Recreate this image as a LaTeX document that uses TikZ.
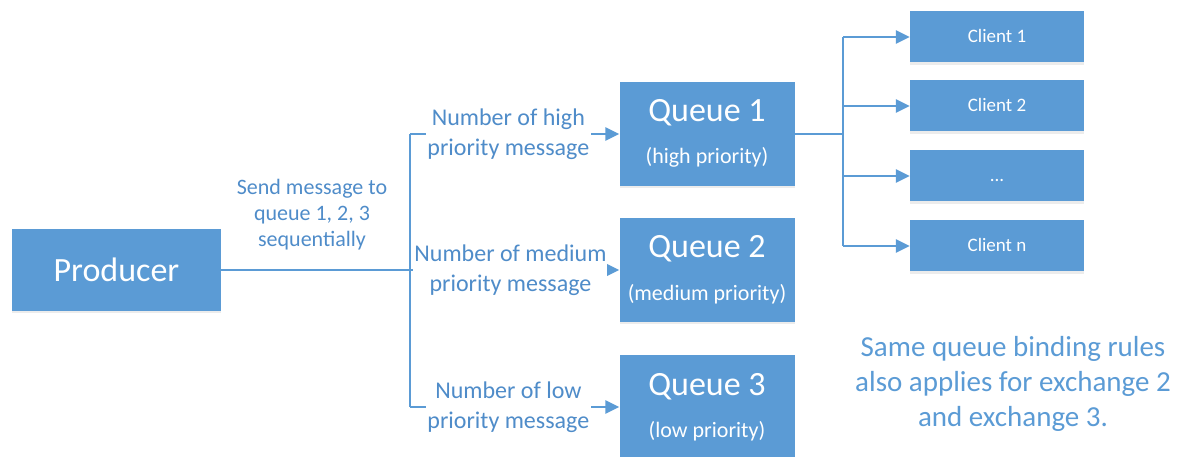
\documentclass[tikz,border=0pt]{standalone}
\usepackage{fontspec}
\setmainfont{Carlito}
\usetikzlibrary{arrows.meta,shadows}

\definecolor{boxblue}{HTML}{5B9BD5}
\definecolor{wireblue}{HTML}{5B9BD5}
\definecolor{labelblue}{HTML}{4F8CC9}
\definecolor{noteblue}{HTML}{5B9BD5}

\newcommand{\fsz}[2]{\fontsize{#1}{#2}\selectfont}

\begin{document}
\begin{tikzpicture}[x=1pt,y=-1pt,
  box/.style={fill=boxblue, draw=none, inner sep=0pt, text=white,
    drop shadow={shadow xshift=0pt, shadow yshift=-2.5pt, opacity=0.15}},
  prodbox/.style={box, minimum width=209pt, minimum height=82pt, font=\fsz{34}{40}},
  qbox/.style={box, minimum width=175pt, minimum height=104pt},
  qtitle/.style={text=white, inner sep=0pt, anchor=base, font=\fsz{34}{40}},
  qsub/.style={text=white, inner sep=0pt, anchor=base, font=\fsz{22}{27}},
  clientbox/.style={box, minimum width=174pt, minimum height=51pt,
    text height=14pt, text depth=2pt, font=\fsz{19}{23}},
  wire/.style={draw=wireblue, line width=2.5pt},
  tip/.style={-{Triangle[length=14pt,width=13pt]}},
  conlabel/.style={fill=white, text=labelblue, inner sep=1.5pt, align=center,
    font=\fsz{24}{30}},
  sendlabel/.style={text=labelblue, inner sep=0pt, align=center, font=\fsz{22}{26}},
  note/.style={text=noteblue, inner sep=0pt, align=center, font=\fsz{29}{35}}
]
\useasboundingbox (0,0) rectangle (1187,457);
\clip (0,0) rectangle (1187,457);

% producer
\node[prodbox] (prod) at (116.5,270) {Producer};
\node[sendlabel] (send) at (312,215) {Send message to\\queue 1, 2, 3\\sequentially};

% queues: box, title and priority line
\node[qbox] (q1) at (707,134) {};
\node[qtitle] (q1t) at (707,122) {Queue 1};
\node[qsub] (q1s) at (707,164) {(high priority)};

\node[qbox] (q2) at (707,270) {};
\node[qtitle] (q2t) at (707,258) {Queue 2};
\node[qsub] (q2s) at (707,301) {(medium priority)};

\node[qbox] (q3) at (707,407) {};
\node[qtitle] (q3t) at (707,395) {Queue 3};
\node[qsub] (q3s) at (707,437) {(low priority)};

% clients
\node[clientbox] (c1) at (997,37) {Client 1};
\node[clientbox] (c2) at (997,106) {Client 2};
\node[clientbox] (c3) at (997,176) {...};
\node[clientbox] (cn) at (997,246) {Client n};

% fan-out from the producer to the queues
\coordinate (split) at (410,270);
\coordinate (hi) at (410,134);
\coordinate (lo) at (410,407);

\draw[wire] (prod.east) -- (split);
\draw[wire, tip] (hi) -- node[conlabel, pos=0.47] (lhigh) {Number of high\\priority message} (q1.west);
\draw[wire, tip] (split) -- node[conlabel, pos=0.48, inner sep=1pt] (lmed) {Number of medium\\priority message} (q2.west);
\draw[wire, tip] (lo) -- node[conlabel, pos=0.47] (llow) {Number of low\\priority message} (q3.west);
\draw[wire] (hi) -- (lo);

% queue 1 bindings to the clients
\coordinate (br) at (843,134);
\draw[wire] (q1.east) -- (br);
\draw[wire] (c1.west -| br) -- (cn.west -| br);
\draw[wire, tip] (c1.west -| br) -- (c1.west);
\draw[wire, tip] (c2.west -| br) -- (c2.west);
\draw[wire, tip] (c3.west -| br) -- (c3.west);
\draw[wire, tip] (cn.west -| br) -- (cn.west);

% note
\node[note] (rules) at (1013,384) {Same queue binding rules\\also applies for exchange 2\\and exchange 3.};
\end{tikzpicture}
\end{document}
